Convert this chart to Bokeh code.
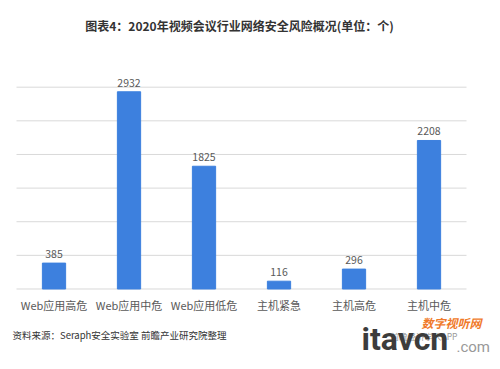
from bokeh.plotting import figure
from bokeh.models import FixedTicker, ColumnDataSource, Range1d, LinearAxis
from bokeh.core.properties import value
from bokeh.embed import file_html
from bokeh.resources import INLINE

categories = ["Web应用高危", "Web应用中危", "Web应用低危", "主机紧急", "主机高危", "主机中危"]
counts = [385, 2932, 1825, 116, 296, 2208]
grid_ticks = [0, 500, 1000, 1500, 2000, 2500, 3000]
title_text = "图表4：2020年视频会议行业网络安全风险概况(单位：个)"
source_text = "资料来源：Seraph安全实验室 前瞻产业研究院整理"

CJK = "Noto Sans CJK SC"
W, H = 492, 361

idx = list(range(len(categories)))
src = ColumnDataSource(dict(x=idx, val=counts, lab=[str(v) for v in counts]))

# frame fills the whole canvas; plot area of the bars sits at 16..466 px horizontally
p = figure(width=W, height=H, x_range=Range1d(-0.5 - 16 / 75, 5.5 + (W - 466) / 75),
           y_range=Range1d(-1078, 4289), output_backend="svg", toolbar_location=None,
           x_axis_type=None, y_axis_type=None, min_border=0)
p.outline_line_color = None
p.background_fill_color = "white"
p.border_fill_color = "white"
p.extra_x_ranges = {"px": Range1d(0, W)}
p.extra_y_ranges = {"px": Range1d(H, 0)}

p.ygrid.visible = False
p.xgrid.visible = False
# horizontal gridlines from the value ticks across the category span
p.segment(x0=-0.5, x1=5.5, y0=grid_ticks, y1=grid_ticks, line_color="#d9d9d9", line_width=1)

p.vbar(x="x", top="val", width=0.31, source=src, color="#3d80de")
p.text(x="x", y="val", text="lab", source=src, text_align="center", text_baseline="bottom",
       y_offset=-5, text_font=value(CJK), text_font_size="10.5px", text_color="#595959")

xa = LinearAxis(fixed_location=0, ticker=FixedTicker(ticks=idx),
                major_label_overrides={i: c for i, c in zip(idx, categories)})
xa.axis_line_color = None
xa.major_tick_line_color = None
xa.minor_tick_line_color = None
xa.major_label_standoff = 2
xa.major_label_text_font = CJK
xa.major_label_text_font_size = "11px"
xa.major_label_text_color = "#595959"
p.add_layout(xa, "below")

def px_text(x, y, t, font, size, color, style="normal", baseline="middle", align="left"):
    p.text(x=[x], y=[y], text=[t], x_range_name="px", y_range_name="px",
           text_align=align, text_baseline=baseline, text_font=value(font),
           text_font_size=size, text_font_style=style, text_color=color)

px_text(239, 25, title_text, CJK, "12px", "#333333", style="bold", align="center")
px_text(12, 334, source_text, CJK, "9.5px", "#333333")
px_text(421, 322, "数字视听网", CJK, "12px", "#f07a2a", style="bold italic")
px_text(390, 335, "前瞻经济学人APP", CJK, "8.5px", "#9a9a9a")
px_text(361, 338, "itavcn", "Roboto", "32px", "#3c3c3c", style="bold")
px_text(456, 346, ".com", "Roboto", "15px", "#999999")

open("out.html", "w").write(file_html(p, INLINE))
